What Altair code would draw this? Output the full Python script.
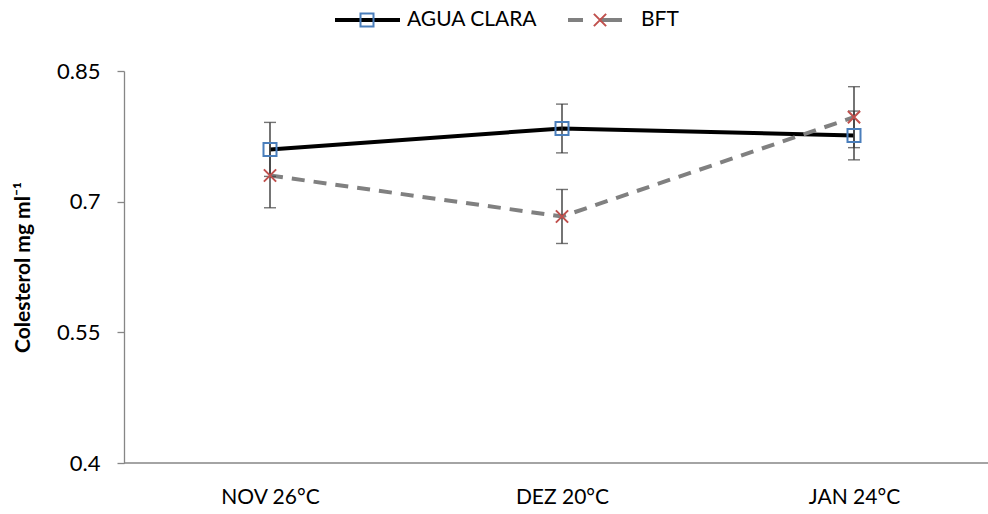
import altair as alt
import pandas as pd

categories = ["NOV 26°C", "DEZ 20°C", "JAN 24°C"]
series_names = ["AGUA CLARA", "BFT"]
agua_vals = [0.760, 0.784, 0.776]
agua_err = [0.031, 0.028, 0.028]
bft_vals = [0.730, 0.683, 0.797]
bft_err = [0.037, 0.031, 0.035]
y_ticks = [0.4, 0.55, 0.7, 0.85]

rows = []
for i, c in enumerate(categories):
    rows.append({"mes": c, "serie": series_names[0], "v": agua_vals[i],
                 "lo": agua_vals[i] - agua_err[i], "hi": agua_vals[i] + agua_err[i]})
    rows.append({"mes": c, "serie": series_names[1], "v": bft_vals[i],
                 "lo": bft_vals[i] - bft_err[i], "hi": bft_vals[i] + bft_err[i]})
df = pd.DataFrame(rows)

W, H = 864, 392
FONT = "Lato"
xcat = alt.X("mes:N", sort=categories,
             scale=alt.Scale(type="point", range=[146, 730], padding=0),
             axis=alt.Axis(title=None, domain=False, ticks=False, labelAngle=0,
                           labelFontSize=21, labelColor="#000000", labelPadding=23,
                           labelFont=FONT))
yq = alt.Y("v:Q", scale=alt.Scale(domain=[0.4, 0.85], nice=False, zero=False),
           axis=alt.Axis(values=y_ticks, format=".2~f", grid=False,
                         domainColor="#868686", domainWidth=1.3,
                         tickColor="#868686", tickSize=7, tickWidth=1.3,
                         labelFontSize=22, labelColor="#000000", labelPadding=17,
                         labelFont=FONT,
                         title="Colesterol  mg ml⁻¹", titleFontSize=21,
                         titleFontWeight="bold", titleFont=FONT, titleColor="#000000",
                         titleX=-101, titleY=H / 2, titleAngle=-90,
                         titleAlign="center", titleBaseline="middle"))

base = alt.Chart(df)

agua = base.transform_filter(alt.datum.serie == series_names[0])
bft = base.transform_filter(alt.datum.serie == series_names[1])

line_agua = agua.mark_line(color="#000000", strokeWidth=4).encode(x=xcat, y=yq)
line_bft = bft.mark_line(color="#808080", strokeWidth=4, strokeDash=[13, 9]).encode(x=xcat, y=yq)

err_rule = base.mark_rule(color="#3a3a3a", strokeWidth=1.4).encode(
    x=alt.X("mes:N", sort=categories), y="lo:Q", y2="hi:Q")
cap_lo = base.mark_tick(color="#3a3a3a", thickness=1.4, size=12, orient="horizontal").encode(
    x=alt.X("mes:N", sort=categories), y="lo:Q")
cap_hi = base.mark_tick(color="#3a3a3a", thickness=1.4, size=12, orient="horizontal").encode(
    x=alt.X("mes:N", sort=categories), y="hi:Q")

pt_agua = agua.mark_point(shape="square", size=169, filled=False, color="#4a7ebb",
                          strokeWidth=2, opacity=1).encode(x=alt.X("mes:N", sort=categories), y="v:Q")
XPATH = "M-1,-1L1,1M-1,1L1,-1"
pt_bft = bft.mark_point(shape=XPATH, size=150, filled=False, color="#c0504d",
                        strokeWidth=2, opacity=1).encode(x=alt.X("mes:N", sort=categories), y="v:Q")

x_axis_line = alt.Chart(pd.DataFrame({"y0": [y_ticks[0]]})).mark_rule(
    color="#868686", strokeWidth=1.3).encode(y="y0:Q", x=alt.value(0), x2=alt.value(W))

# legend (top, manual)
LY = -51
leg_df = pd.DataFrame({"name": series_names})
leg = alt.Chart(leg_df)
leg_line1 = leg.transform_filter(alt.datum.name == series_names[0]).mark_rule(
    color="#000000", strokeWidth=4).encode(x=alt.value(211), x2=alt.value(276), y=alt.value(LY))
leg_pt1 = leg.transform_filter(alt.datum.name == series_names[0]).mark_point(
    shape="square", size=169, filled=False, color="#4a7ebb", strokeWidth=2, opacity=1).encode(
    x=alt.value(243), y=alt.value(LY))
leg_txt1 = leg.transform_filter(alt.datum.name == series_names[0]).mark_text(
    align="left", baseline="middle", fontSize=21, font=FONT, color="#000000").encode(
    x=alt.value(283), y=alt.value(LY), text="name:N")
leg_line2 = leg.transform_filter(alt.datum.name == series_names[1]).mark_rule(
    color="#808080", strokeWidth=4, strokeDash=[15, 17, 22, 17]).encode(
    x=alt.value(444), x2=alt.value(509), y=alt.value(LY))
leg_pt2 = leg.transform_filter(alt.datum.name == series_names[1]).mark_point(
    shape=XPATH, size=150, filled=False, color="#c0504d", strokeWidth=2, opacity=1).encode(
    x=alt.value(476), y=alt.value(LY))
leg_txt2 = leg.transform_filter(alt.datum.name == series_names[1]).mark_text(
    align="left", baseline="middle", fontSize=21, font=FONT, color="#000000").encode(
    x=alt.value(517), y=alt.value(LY), text="name:N")

chart = alt.layer(
    line_agua, line_bft, err_rule, cap_lo, cap_hi, pt_agua, pt_bft, x_axis_line,
    leg_line1, leg_pt1, leg_txt1, leg_line2, leg_pt2, leg_txt2
).properties(
    width=W, height=H,
    autosize=alt.AutoSizeParams(type="none"),
    padding={"left": 124, "top": 71, "right": 0, "bottom": 51},
    background="white"
).configure_view(stroke=None)

chart.save("out.html", embed_options={"renderer": "svg", "actions": False})
